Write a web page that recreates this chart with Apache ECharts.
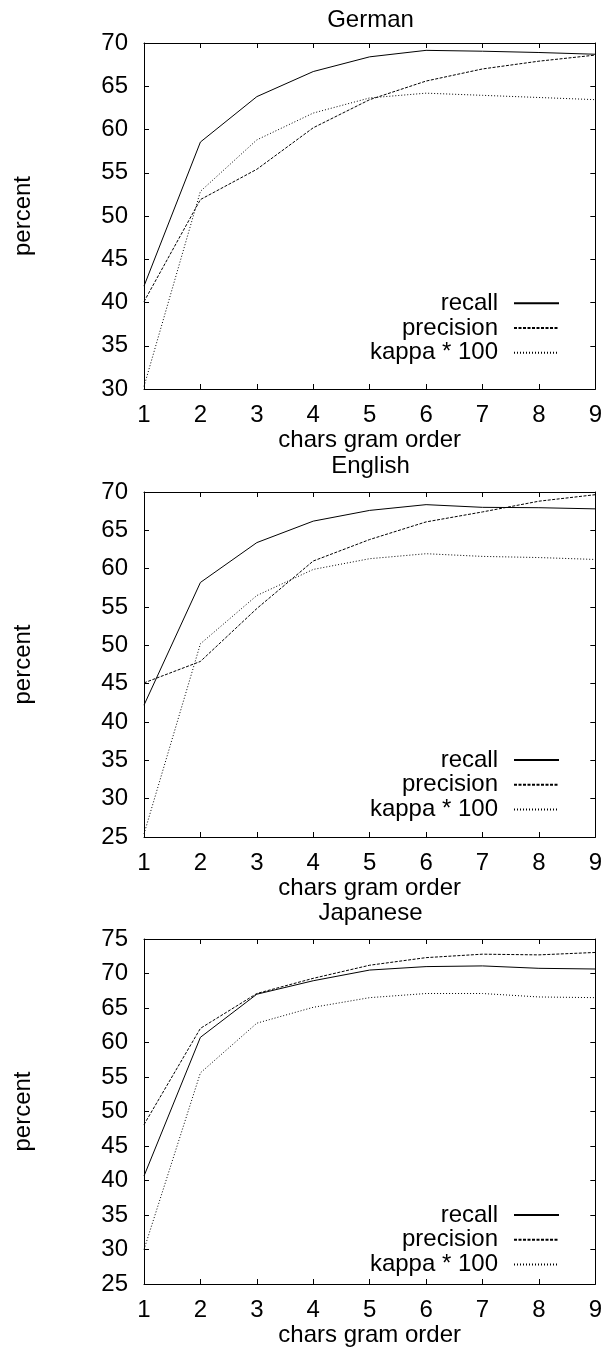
<!DOCTYPE html>
<html>
<head>
<meta charset="utf-8">
<script src="https://cdn.jsdelivr.net/npm/echarts@6/dist/echarts.min.js"></script>
<style>
html,body{margin:0;padding:0;background:#fff;}
#chart{width:605px;height:1352px;}
</style>
</head>
<body>
<div id="chart"></div>
<script>
const xValues = [1, 2, 3, 4, 5, 6, 7, 8, 9];
const seriesNames = ['recall', 'precision', 'kappa * 100'];
const panelTitles = ['German', 'English', 'Japanese'];

const deRecall    = [41.9, 58.55, 63.8, 66.7, 68.4, 69.15, 69.05, 68.9, 68.7];
const dePrecision = [40.1, 51.9, 55.4, 60.2, 63.45, 65.6, 67.0, 67.9, 68.6];
const deKappa     = [30.3, 52.85, 58.8, 61.9, 63.65, 64.2, 63.95, 63.7, 63.45];

const enRecall    = [42.2, 58.2, 63.4, 66.2, 67.6, 68.35, 68.0, 67.95, 67.8];
const enPrecision = [45.1, 47.9, 54.8, 61.0, 63.8, 66.1, 67.4, 68.8, 69.65];
const enKappa     = [25.4, 50.2, 56.5, 59.9, 61.3, 61.95, 61.6, 61.45, 61.2];

const jaRecall    = [40.65, 60.75, 67.0, 68.95, 70.5, 71.0, 71.1, 70.75, 70.65];
const jaPrecision = [48.1, 62.05, 67.1, 69.3, 71.2, 72.3, 72.8, 72.7, 73.05];
const jaKappa     = [30.0, 55.6, 62.8, 65.1, 66.5, 67.1, 67.1, 66.6, 66.5];

const yRanges = [[30, 70], [25, 70], [25, 75]];
const xName = 'chars gram order';
const yName = 'percent';

const panelData = [
  [deRecall, dePrecision, deKappa],
  [enRecall, enPrecision, enKappa],
  [jaRecall, jaPrecision, jaKappa]
];

// layout
const FONT = '"Liberation Sans", Arial, Helvetica, sans-serif';
const FS = 24;
const LH = 24;
const gridTops = [43, 492, 939];
const gridHeights = [346, 345, 345];
const gridLeft = 144;
const gridWidth = 453;
const titleTops = [8, 454, 901.5];
const legendTops = [291.3, 748, 1203];
const lineStyles = [
  { type: 'solid' },
  { type: [3, 1.5] },
  { type: [1, 2] }
];

const chart = echarts.init(document.getElementById('chart'), null, { renderer: 'canvas' });

const grids = [], xAxes = [], yAxes = [], series = [], titles = [], legends = [];
const axisLine = { show: true, lineStyle: { color: '#000', width: 1 } };
const axisTick = { show: true, inside: true, length: 5, lineStyle: { color: '#000', width: 1 } };

panelData.forEach(function (lines, p) {
  grids.push({ left: gridLeft, width: gridWidth, top: gridTops[p], height: gridHeights[p], containLabel: false });
  // bottom x
  xAxes.push({
    gridIndex: p, type: 'value', min: 1, max: 9, interval: 1, position: 'bottom',
    axisLine: axisLine, axisTick: axisTick, splitLine: { show: false },
    axisLabel: { fontSize: FS, fontFamily: FONT, color: '#000', margin: 14.5, lineHeight: LH },
    name: xName, nameLocation: 'middle', nameGap: 37.5,
    nameTextStyle: { fontSize: FS, fontFamily: FONT, color: '#000', lineHeight: LH }
  });
  // top x (mirror ticks)
  xAxes.push({
    gridIndex: p, type: 'value', min: 1, max: 9, interval: 1, position: 'top',
    axisLine: axisLine, axisTick: axisTick, splitLine: { show: false },
    axisLabel: { show: false }
  });
  // left y
  yAxes.push({
    gridIndex: p, type: 'value', min: yRanges[p][0], max: yRanges[p][1], interval: 5, position: 'left',
    axisLine: axisLine, axisTick: axisTick, splitLine: { show: false },
    axisLabel: { fontSize: FS, fontFamily: FONT, color: '#000', margin: 16 },
    name: yName, nameLocation: 'middle', nameRotate: 90, nameGap: 109,
    nameTextStyle: { fontSize: FS, fontFamily: FONT, color: '#000' }
  });
  // right y (mirror ticks)
  yAxes.push({
    gridIndex: p, type: 'value', min: yRanges[p][0], max: yRanges[p][1], interval: 5, position: 'right',
    axisLine: axisLine, axisTick: axisTick, splitLine: { show: false },
    axisLabel: { show: false }
  });
  lines.forEach(function (vals, s) {
    series.push({
      type: 'line', name: seriesNames[s],
      xAxisIndex: p * 2, yAxisIndex: p * 2,
      symbol: 'none', showSymbol: false, silent: true, animation: false,
      lineStyle: Object.assign({ color: '#000', width: 1 }, lineStyles[s]),
      itemStyle: { color: '#000' },
      data: xValues.map(function (x, i) { return [x, vals[i]]; })
    });
  });
  titles.push({
    text: panelTitles[p], left: gridLeft + gridWidth / 2, top: titleTops[p], padding: 0,
    textAlign: 'center',
    textStyle: { fontSize: FS, fontFamily: FONT, color: '#000', fontWeight: 'normal', lineHeight: LH }
  });
  legends.push({
    data: seriesNames, orient: 'vertical', align: 'right', right: 45, top: legendTops[p],
    padding: 0, itemGap: 0.7, itemWidth: 45, itemHeight: 14, selectedMode: false,
    itemStyle: { opacity: 0, color: 'transparent', borderWidth: 0 },
    textStyle: { fontSize: FS, fontFamily: FONT, color: '#000', padding: [0, 11, 0, 0], lineHeight: LH }
  });
});

chart.setOption({
  animation: false,
  backgroundColor: '#fff',
  title: titles,
  legend: legends,
  grid: grids,
  xAxis: xAxes,
  yAxis: yAxes,
  series: series
});
</script>
</body>
</html>
